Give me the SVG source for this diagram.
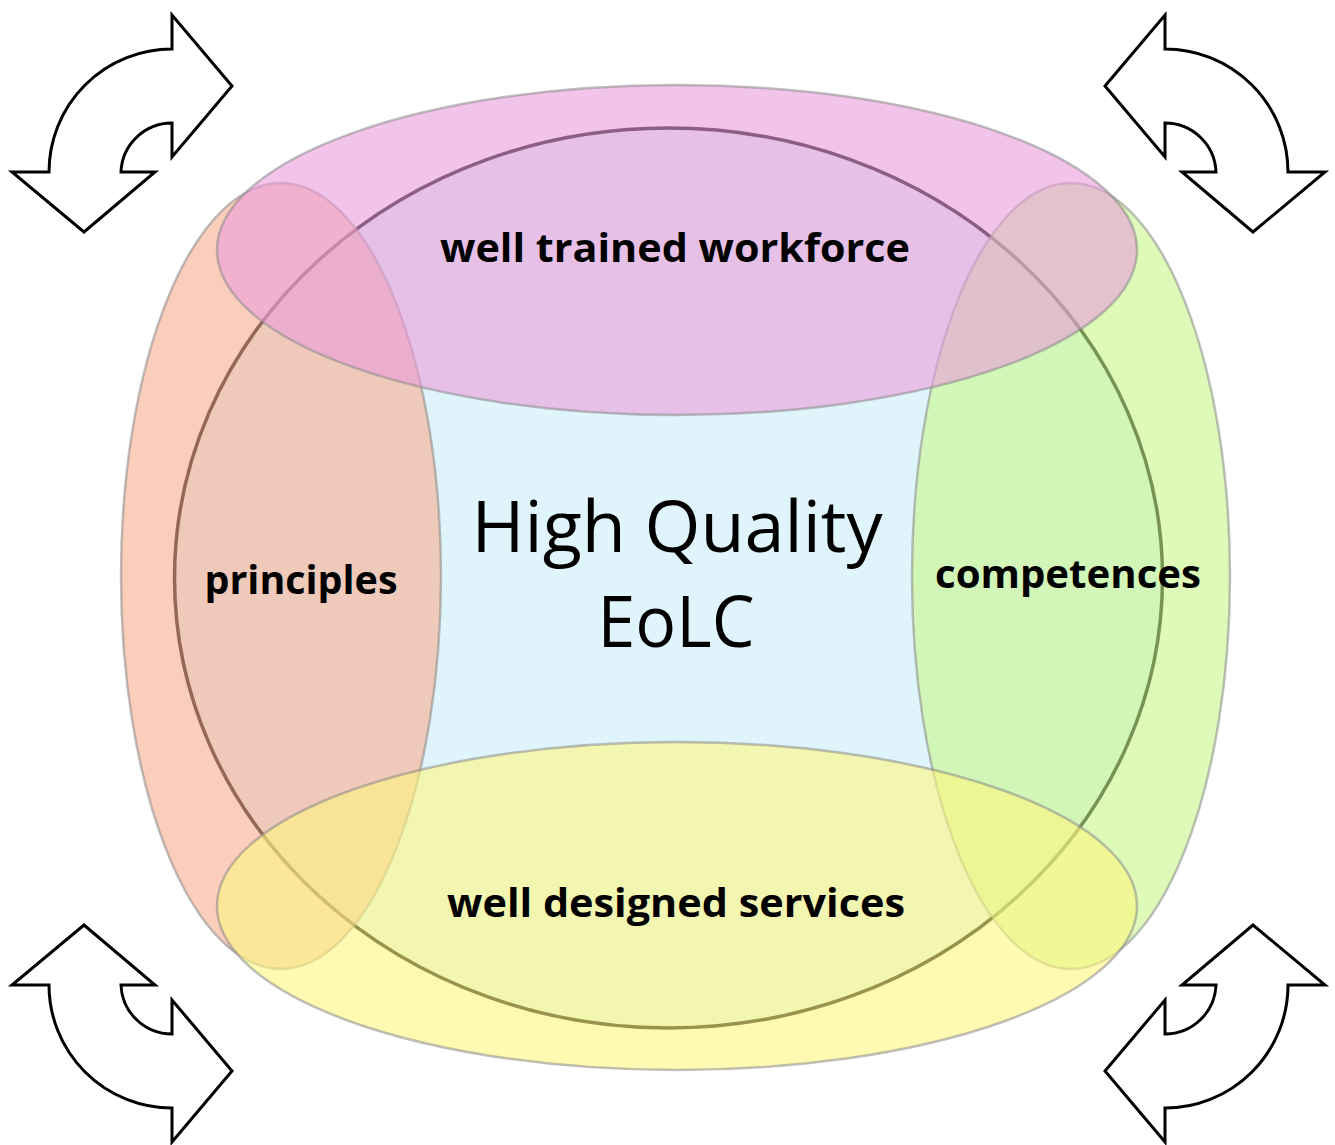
<svg xmlns="http://www.w3.org/2000/svg" width="1335" height="1145" viewBox="0 0 1335 1145">
  <style>
    .lobe { fill-opacity: 0.6; stroke: #8a8a8a; stroke-opacity: 0.55; stroke-width: 2.5; }
    .lbl { font-family: "Open Sans", "Liberation Sans", sans-serif; font-weight: bold; font-size: 40px; fill: #000; text-anchor: middle; }
    .title { font-family: "Open Sans", "Liberation Sans", sans-serif; font-size: 72px; fill: #000; text-anchor: middle; }
    .arrow { fill: #fff; stroke: #000; stroke-width: 3; stroke-linejoin: miter; }
  </style>
  <defs>
    <path id="cyc" d="M 172,49 L 172,15 L 232,86 L 172,157 L 172,123 A 51 51 0 0 0 121,172 L 155,172 L 84,232 L 12,172 L 49,172 A 123 123 0 0 1 172,49 Z"/>
  </defs>
  <rect width="1335" height="1145" fill="#fff"/>

  <g id="core">
    <ellipse cx="668.5" cy="578" rx="494" ry="450" fill="#e0f4fb" stroke="#000" stroke-width="3.5"/>
  </g>

  <g id="principles">
    <ellipse class="lobe" cx="281" cy="576" rx="160" ry="393" fill="#f9ac8e"/>
  </g>
  <g id="competences">
    <ellipse class="lobe" cx="1071" cy="576" rx="159" ry="393" fill="#c6f68a"/>
  </g>
  <g id="services">
    <ellipse class="lobe" cx="677" cy="906" rx="460" ry="164" fill="#fdf67e"/>
  </g>
  <g id="workforce">
    <ellipse class="lobe" cx="677" cy="250" rx="460" ry="165" fill="#e99cdb"/>
  </g>

  <g id="labels">
    <text class="lbl" x="675" y="262" textLength="470" lengthAdjust="spacingAndGlyphs">well trained workforce</text>
    <text class="lbl" x="301" y="594" textLength="193" lengthAdjust="spacingAndGlyphs">principles</text>
    <text class="lbl" x="1068" y="588" textLength="266" lengthAdjust="spacingAndGlyphs">competences</text>
    <text class="lbl" x="676" y="917" textLength="458" lengthAdjust="spacingAndGlyphs">well designed services</text>
    <text class="title" x="677" y="552" textLength="411" lengthAdjust="spacingAndGlyphs">High Quality</text>
    <text class="title" x="676" y="647" textLength="157" lengthAdjust="spacingAndGlyphs">EoLC</text>
  </g>

  <g id="cycle-top-left"><use href="#cyc" class="arrow"/></g>
  <g id="cycle-top-right"><use href="#cyc" class="arrow" transform="matrix(-1,0,0,1,1337,0)"/></g>
  <g id="cycle-bottom-left"><use href="#cyc" class="arrow" transform="matrix(1,0,0,-1,0,1157)"/></g>
  <g id="cycle-bottom-right"><use href="#cyc" class="arrow" transform="matrix(-1,0,0,-1,1337,1157)"/></g>
  <g id="connectors"/>
</svg>
